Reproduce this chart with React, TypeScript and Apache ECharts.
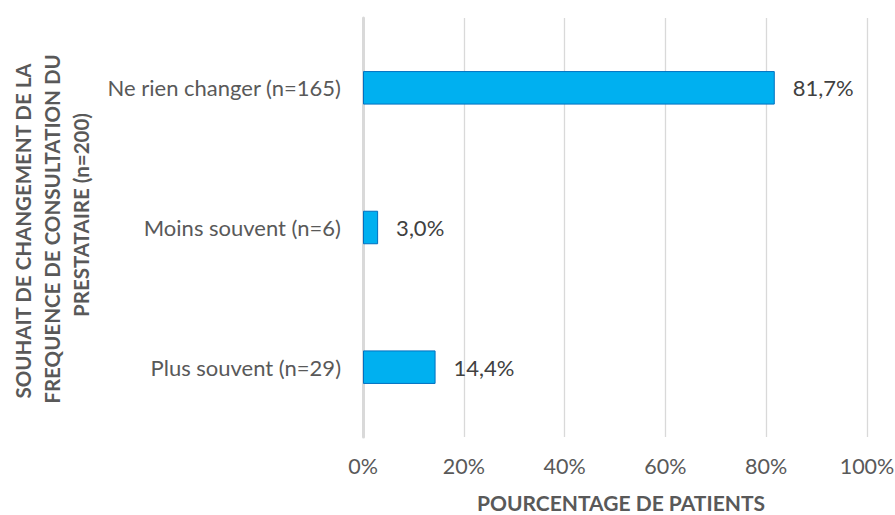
import React, { useEffect, useRef } from "react";
import * as echarts from "echarts";

const categories = ["Plus souvent (n=29)", "Moins souvent (n=6)", "Ne rien changer (n=165)"];
const values = [14.4, 3.0, 81.7];
const xTicks = [0, 20, 40, 60, 80, 100];
const yTitleLines = ["SOUHAIT DE CHANGEMENT DE LA", "FREQUENCE DE CONSULTATION DU", "PRESTATAIRE (n=200)"];
const xTitle = "POURCENTAGE DE PATIENTS";

const FONT = "Lato";

export default function App() {
  const ref = useRef<HTMLDivElement>(null);
  useEffect(() => {
    const chart = echarts.init(ref.current!, null, { renderer: "svg" });
    const yTitleX = [23, 52, 81];
    const yTitleY = [231, 229, 215];
    chart.setOption({
      animation: false,
      backgroundColor: "#ffffff",
      textStyle: { fontFamily: FONT },
      grid: { left: 363, right: 28, top: 18, bottom: 78, containLabel: false, outerBoundsMode: "none" },
      xAxis: {
        type: "value",
        min: xTicks[0],
        max: xTicks[xTicks.length - 1],
        interval: 20,
        axisLine: { show: false },
        axisTick: { show: false },
        splitLine: { show: true, lineStyle: { color: "#d9d9d9", width: 1.3 } },
        axisLabel: {
          color: "#595959",
          fontSize: 21.5,
          fontFamily: FONT,
          margin: 18,
          formatter: (v: number) => v + "%",
        },
      },
      yAxis: {
        type: "category",
        data: categories,
        axisLine: { show: true, lineStyle: { color: "#d9d9d9", width: 3 } },
        axisTick: { show: false },
        axisLabel: { color: "#595959", fontSize: 22, fontFamily: FONT, margin: 22 },
      },
      graphic: [
        ...yTitleLines.map((t, i) => ({
          type: "text",
          x: yTitleX[i],
          y: yTitleY[i],
          rotation: Math.PI / 2,
          style: {
            text: t,
            fill: "#595959",
            font: `bold 20.5px ${FONT}`,
            textAlign: "center",
            textVerticalAlign: "middle",
          },
        })),
        {
          type: "text",
          x: 621,
          y: 502,
          style: {
            text: xTitle,
            fill: "#595959",
            font: `bold 21px ${FONT}`,
            textAlign: "center",
            textVerticalAlign: "middle",
          },
        },
      ],
      series: [
        {
          type: "bar",
          data: values,
          barWidth: "24%",
          itemStyle: { color: "#00b0f0", borderColor: "#0070c0", borderWidth: 1 },
          label: {
            show: true,
            position: "right",
            distance: 18,
            color: "#404040",
            fontSize: 22,
            fontFamily: FONT,
            formatter: (p: any) => p.value.toFixed(1).replace(".", ",") + "%",
          },
        },
      ],
    });
    return () => chart.dispose();
  }, []);
  return <div ref={ref} style={{ width: 895, height: 515, position: "absolute", left: 0, top: 0 }} />;
}
